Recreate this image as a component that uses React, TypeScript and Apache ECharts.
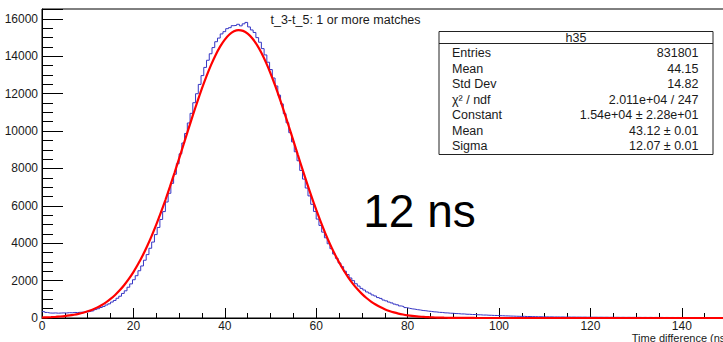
import React, { useEffect, useRef } from "react";
import * as echarts from "echarts";

// Histogram h35: 250 bins of 0.6 ns from 0 to 150 ns
const HIST_BIN_WIDTH = 0.6;
const HIST_COUNTS = [
  340, 298, 268, 262, 271, 257, 266, 273, 268, 286, 279, 297, 291, 306, 311, 321, 332,
  362, 392, 452, 497, 563, 618, 694, 757, 853, 938, 1056, 1166, 1314, 1455,
  1646, 1824, 2047, 2263, 2528, 2784, 3091, 3392, 3731, 4062, 4461, 4843, 5271, 5692, 6204, 6671, 7203, 7689, 8252, 8781,
  9362, 9871, 10433, 10948, 11517, 11998, 12495, 12968, 13405, 13788, 14136, 14467, 14779, 14975, 15197, 15318, 15477, 15531, 15638, 15652,
  15712, 15628, 15736, 15812, 15571, 15409, 15274, 14998, 14752, 14411, 14073, 13682, 13291, 12838, 12412, 11921, 11452, 10931, 10442, 9913,
  9421, 8893, 8412, 7893, 7431, 6952, 6531, 6082, 5702, 5291, 4952, 4593, 4291, 3972, 3708, 3422, 3191, 2942, 2748, 2503,
  2326, 2142, 1998, 1832, 1707, 1584, 1496, 1393, 1327, 1234, 1178, 1093, 1048, 962, 917, 853, 806, 744, 706, 646,
  614, 557, 523, 491, 474, 446, 428, 401, 389, 366, 353, 331, 323, 302, 297, 276, 272, 257, 252, 237,
  234, 218, 217, 201, 199, 186, 187, 172, 171, 158, 159, 148, 145, 136, 134, 124, 122,
  114, 112, 103, 101, 94, 91, 85, 87, 78, 80, 72, 73, 66, 68, 61, 62,
  58, 60, 54, 57, 52, 55, 49, 53, 47, 50, 46, 48, 44, 47, 42, 45, 41, 43, 39, 42,
  38, 41, 36, 40, 35, 38, 34, 37, 33, 36, 32, 35, 31, 34, 30, 33, 29, 33, 28, 32,
  28, 31, 27, 30, 27, 29, 26, 29, 25, 28, 25, 27, 24, 27, 23, 26, 23, 25, 22, 25,
  21, 24, 21, 23, 20, 23,
];

// Gaussian fit curve, sampled every 1 ns from 0 to 150 ns
const FIT_STEP = 1;
const FIT_VALUES = [
  26, 35, 46, 61, 81, 105, 136, 175, 223, 283, 357, 446, 555, 684, 839, 1021, 1234, 1481, 1766, 2091,
  2458, 2872, 3331, 3839, 4392, 4991, 5632, 6312, 7027, 7768, 8530, 9302, 10073, 10835, 11576, 12282,
  12941, 13543, 14074, 14529, 14894, 15165, 15334, 15400, 15359, 15214, 14968, 14625, 14191, 13677,
  13091, 12445, 11749, 11016, 10258, 9488, 8715, 7949, 7203, 6481, 5792, 5141, 4531, 3967, 3448, 2978,
  2553, 2176, 1840, 1546, 1290, 1069, 880, 719, 584, 471, 377, 300, 237, 186, 145, 112, 86, 66, 50, 37,
  28, 21, 15, 11, 8, 6, 4, 3, 2, 1, 1, 1,
  0, 0, 0, 0, 0, 0, 0, 0, 0, 0, 0, 0, 0, 0, 0, 0, 0, 0, 0, 0, 0, 0, 0, 0, 0, 0, 0,
  0, 0, 0, 0, 0, 0, 0, 0, 0, 0, 0, 0, 0, 0, 0, 0, 0, 0, 0, 0, 0, 0, 0, 0, 0, 0,
];

const X_MIN = 0;
const X_MAX = 150;
const X_MAJOR = 20;
const Y_MIN = 0;
const Y_MAX = 16530;
const Y_MAJOR = 2000;
const MINOR_DIVISIONS = 4;

const TITLE = "t_3-t_5: 1 or more matches";
const X_TITLE = "Time difference (ns)";
const ANNOTATION = "12 ns";
const STATS_NAME = "h35";
const STATS_LABELS = ["Entries", "Mean", "Std Dev", "χ² / ndf", "Constant", "Mean", "Sigma"];
const STATS_VALUES = ["831801", "44.15", "14.82", "2.011e+04 / 247", "1.54e+04 ± 2.28e+01", "43.12 ± 0.01", "12.07 ± 0.01"];

const FONT = "'Liberation Sans', Arial, Helvetica, sans-serif";
const TICK_COLOR = "#000";

function txt(text: string, x: number, y: number, size: number, align: string, color = "#1a1a1a") {
  return {
    type: "text",
    x,
    y,
    z: 100,
    style: {
      text,
      fill: color,
      font: `${size}px ${FONT}`,
      textAlign: align,
      align,
      textVerticalAlign: "middle",
      verticalAlign: "middle",
    },
  };
}

export default function App() {
  const ref = useRef<HTMLDivElement>(null);

  useEffect(() => {
    document.body.style.margin = "0";
    document.body.style.overflow = "hidden";
    if (!ref.current) return;
    const chart = echarts.init(ref.current, null, { renderer: "svg" });

    const histData: number[][] = HIST_COUNTS.map((v, i) => [i * HIST_BIN_WIDTH, v]);
    histData.push([HIST_COUNTS.length * HIST_BIN_WIDTH, HIST_COUNTS[HIST_COUNTS.length - 1]]);
    const fitData: number[][] = FIT_VALUES.map((v, i) => [i * FIT_STEP, v]);

    const labelStyle = { color: "#1a1a1a", fontSize: 12, fontFamily: FONT, formatter: (v: number) => String(v) };

    const statsX = 439;
    const statsY = 31.5;
    const statsW = 274;
    const statsH = 123;
    const rowY0 = 53;
    const rowDy = 15.5;

    const graphic: any[] = [
      {
        type: "rect",
        z: 90,
        shape: { x: statsX, y: statsY, width: statsW, height: statsH },
        style: { fill: "#fff", stroke: "#222", lineWidth: 1 },
      },
      {
        type: "line",
        z: 91,
        shape: { x1: statsX, y1: 43.5, x2: statsX + statsW, y2: 43.5 },
        style: { stroke: "#222", lineWidth: 1 },
      },
      txt(STATS_NAME, statsX + statsW / 2, 37.5, 12.5, "center"),
      txt(TITLE, 345.5, 19.5, 12.5, "center"),
      txt(X_TITLE, 729, 337.5, 11, "right"),
      txt(ANNOTATION, 419.5, 211, 46, "center", "#000"),
    ];
    STATS_LABELS.forEach((l, i) => graphic.push(txt(l, 452, rowY0 + i * rowDy, 12.5, "left")));
    STATS_VALUES.forEach((v, i) => graphic.push(txt(v, 698.5, rowY0 + i * rowDy, 12.5, "right")));

    chart.setOption({
      animation: false,
      backgroundColor: "#fff",
      grid: {
        left: 42,
        top: 9,
        right: 2.5,
        bottom: 24,
        containLabel: false,
        outerBoundsMode: "none",
        show: true,
        borderColor: "#000",
        borderWidth: 1,
        backgroundColor: "transparent",
      },
      xAxis: {
        type: "value",
        min: X_MIN,
        max: X_MAX,
        interval: X_MAJOR,
        position: "bottom",
        axisLine: { show: true, onZero: false, lineStyle: { color: "#000", width: 1 } },
        axisTick: { show: true, inside: true, length: 10, lineStyle: { color: TICK_COLOR, width: 1 } },
        minorTick: { show: true, splitNumber: MINOR_DIVISIONS, length: 5, lineStyle: { color: TICK_COLOR, width: 1 } },
        axisLabel: { ...labelStyle, margin: 2, showMaxLabel: false },
        splitLine: { show: false },
        minorSplitLine: { show: false },
      },
      yAxis: {
        type: "value",
        min: Y_MIN,
        max: Y_MAX,
        interval: Y_MAJOR,
        position: "left",
        axisLine: { show: true, onZero: false, lineStyle: { color: "#000", width: 1 } },
        axisTick: { show: true, inside: true, length: 21, lineStyle: { color: TICK_COLOR, width: 1 } },
        minorTick: { show: true, splitNumber: MINOR_DIVISIONS, length: 11, lineStyle: { color: TICK_COLOR, width: 1 } },
        axisLabel: { ...labelStyle, margin: 4, showMaxLabel: false },
        splitLine: { show: false },
        minorSplitLine: { show: false },
      },
      series: [
        {
          type: "line",
          name: "h35",
          data: histData,
          step: "end",
          showSymbol: false,
          symbol: "none",
          lineStyle: { color: "#3535c4", width: 1 },
          z: 2,
        },
        {
          type: "line",
          name: "gaus",
          data: fitData,
          smooth: 0.3,
          showSymbol: false,
          symbol: "none",
          lineStyle: { color: "#ff0000", width: 2.2 },
          z: 3,
        },
      ],
      graphic,
    });

    return () => chart.dispose();
  }, []);

  return (
    <div style={{ width: 723, height: 342, overflow: "hidden", position: "relative" }}>
      <div ref={ref} style={{ width: 730, height: 342 }} />
    </div>
  );
}
